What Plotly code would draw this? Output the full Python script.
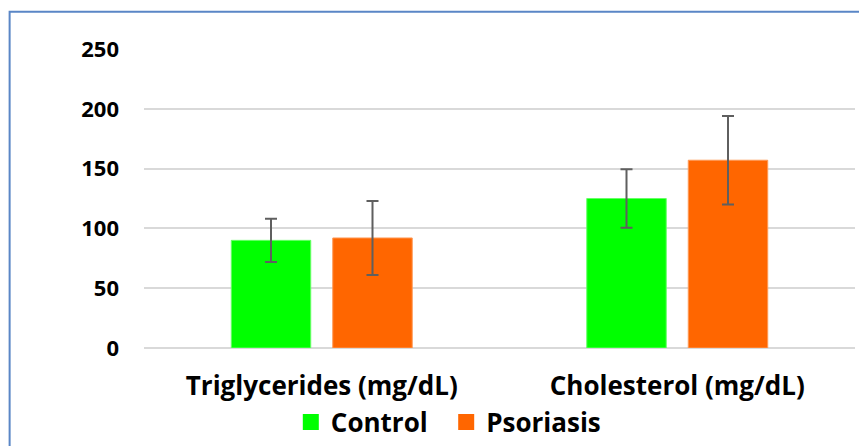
import plotly.graph_objects as go

categories = ["Triglycerides (mg/dL)", "Cholesterol (mg/dL)"]
control_vals = [90, 125]
control_err = [18, 24.5]
psoriasis_vals = [92, 157]
psoriasis_err = [31, 37]
y_ticks = [0, 50, 100, 150, 200, 250]
legend_names = ["Control", "Psoriasis"]

FONT = "Open Sans"
GREEN = "#00ff00"
ORANGE = "#ff6600"
err_style = dict(type="data", visible=True, color="#5f5f5f", thickness=2, width=6)

fig = go.Figure()
fig.add_trace(go.Bar(
    name="Control", x=categories, y=control_vals, showlegend=False,
    error_y=dict(array=control_err, **err_style),
    marker=dict(color=GREEN, line=dict(color="#66ff66", width=1)),
))
fig.add_trace(go.Bar(
    name="Psoriasis", x=categories, y=psoriasis_vals, showlegend=False,
    error_y=dict(array=psoriasis_err, **err_style),
    marker=dict(color=ORANGE, line=dict(color="#ff9955", width=1)),
))
for nm, col, pad in [(legend_names[0], GREEN, "\u00a0\u00a0"), (legend_names[1], ORANGE, "")]:
    fig.add_trace(go.Scatter(
        name=nm + pad, x=[None], y=[None], mode="markers", showlegend=True,
        marker=dict(symbol="square", size=18, color=col, line=dict(width=0)),
    ))

fig.update_layout(
    width=859, height=438,
    margin=dict(l=136, r=12, t=41, b=98, autoexpand=False),
    paper_bgcolor="white", plot_bgcolor="white",
    barmode="group", bargap=0.429, bargroupgap=0.217,
    font=dict(family=FONT, color="black", weight="bold"),
    showlegend=True,
    legend=dict(orientation="h", x=0.428, xanchor="center", y=-0.248, yanchor="middle",
                bgcolor="rgba(0,0,0,0)",
                font=dict(family=FONT, size=26, color="black", weight="bold"),
                itemsizing="trace", traceorder="normal"),
    shapes=[dict(type="rect", xref="paper", yref="paper",
                 x0=-0.189, x1=2, y0=-1, y1=1.125,
                 line=dict(color="#5a86c6", width=2), fillcolor="rgba(0,0,0,0)",
                 layer="below")],
)
fig.update_xaxes(showgrid=False, showline=False, ticks="", automargin=False,
                 ticklabelstandoff=20,
                 tickfont=dict(family=FONT, size=26, color="black", weight="bold"))
fig.update_yaxes(range=[0, 250], tickvals=y_ticks, showgrid=True, automargin=False,
                 gridcolor="#d9d9d9", gridwidth=1.5, zeroline=True,
                 zerolinecolor="#d9d9d9", zerolinewidth=1.5, showline=False,
                 ticklabelstandoff=24,
                 tickfont=dict(family=FONT, size=22, color="black", weight="bold"))
fig.write_html("out.html")
